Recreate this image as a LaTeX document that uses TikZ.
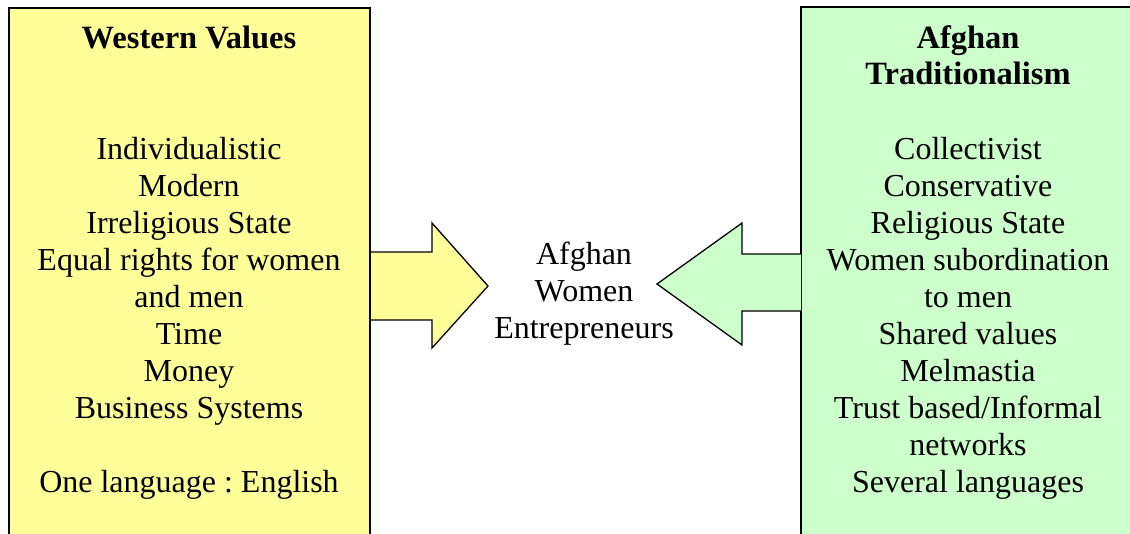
\documentclass[tikz,border=0pt]{standalone}
\usepackage{fontspec}
\setmainfont{Liberation Serif}
\frenchspacing
\definecolor{wyellow}{HTML}{FFFF99}
\definecolor{agreen}{HTML}{CCFFCC}
\begin{document}
\begin{tikzpicture}[x=1pt,y=-1pt,
  panel/.style={draw=black, line width=2pt, anchor=north west, inner sep=0pt},
  bigarrow/.style={draw=black, line width=1.3pt, line join=miter},
  txt/.style={align=center, inner sep=0pt, font=\fontsize{32}{37}\selectfont},
  ttl/.style={align=center, inner sep=0pt, font=\fontsize{32.5}{36}\selectfont\bfseries}]
\useasboundingbox (0,0) rectangle (1130,533);
\begin{scope}
\clip (0,0) rectangle (1130,533);
\node[panel, fill=wyellow, minimum width=361pt, minimum height=560pt] (west) at (8,7) {};
\node[anchor=north west, inner sep=0pt, fill=agreen, minimum width=340pt, minimum height=560pt] (afg) at (801,7) {};
\draw[line width=2pt] (afg.south west) -- (afg.north west) -- (1131,7);
\end{scope}
% arrows
\draw[bigarrow, fill=wyellow] (west.north east |- 0,252) -- (432,252) -- (432,223) -- (488,286) -- (432,348) -- (432,320) -- (west.north east |- 0,320);
\draw[bigarrow, fill=agreen] (afg.north west |- 0,254) -- (742,254) -- (742,223) -- (657,284) -- (742,345) -- (742,311) -- (afg.north west |- 0,311);
% titles
\node[ttl, anchor=base] (wtitle) at (189,48) {Western Values};
\node[ttl, anchor=base] (atitle1) at (968,48) {Afghan};
\node[ttl, anchor=base] (atitle2) at (968,84) {Traditionalism};
% lists
\node[txt, anchor=north] (wlist) at (189,137) {Individualistic\\Modern\\Irreligious State\\Equal rights for women\\and men\\Time\\Money\\Business Systems\\[37pt]One language : English};
\node[txt, anchor=north] (alist) at (968,137) {Collectivist\\Conservative\\Religious State\\Women subordination\\to men\\Shared values\\Melmastia\\Trust based/Informal\\networks\\Several languages};
\node[txt, anchor=north] (mid) at (584,242) {Afghan\\Women\\Entrepreneurs};
\end{tikzpicture}
\end{document}
